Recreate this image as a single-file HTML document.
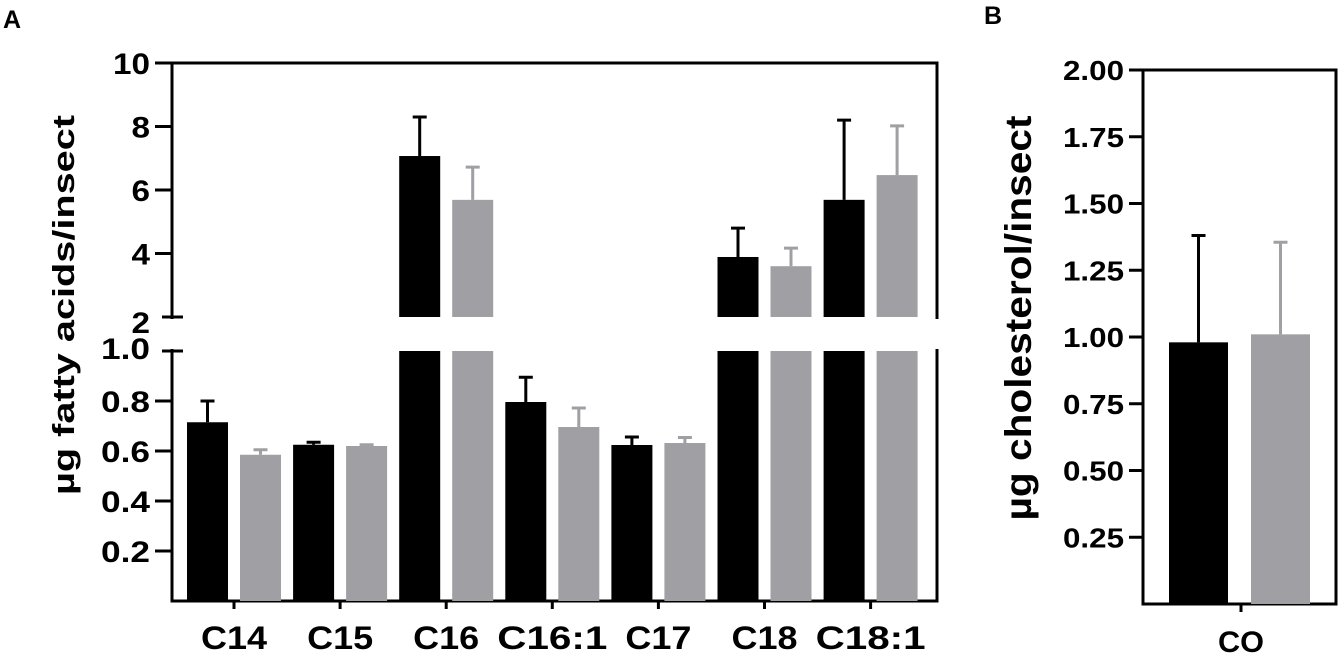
<!DOCTYPE html>
<html><head><meta charset="utf-8"><style>
body{margin:0;background:#fff}
svg{display:block;font-family:"Liberation Sans",Arial,sans-serif;font-weight:bold}
</style></head><body>
<svg id="c" width="1339" height="655" viewBox="0 0 1339 655" xmlns="http://www.w3.org/2000/svg">
<text x="3" y="28" font-size="25">A</text>
<text x="984" y="24" font-size="25">B</text>
<text transform="translate(74,305) rotate(-90)" text-anchor="middle" font-size="31" textLength="380" lengthAdjust="spacingAndGlyphs">µg fatty acids/insect</text>
<text transform="translate(1031,318) rotate(-90)" text-anchor="middle" font-size="37" textLength="405" lengthAdjust="spacingAndGlyphs">µg cholesterol/insect</text>
<g id="a"></g><g id="b"></g>
</svg>
<script>
const categories=["C14","C15","C16","C16:1","C17","C18","C18:1"];
const blackValues=[0.715,0.625,7.07,0.796,0.624,3.89,5.69];
const blackErr=[0.80,0.635,8.3,0.895,0.656,4.8,8.2];
const grayValues=[0.585,0.62,5.69,0.696,0.632,3.6,6.47];
const grayErr=[0.605,0.625,6.72,0.772,0.654,4.17,8.02];
const upperTicks=[2,4,6,8,10];
const lowerTicks=[0.2,0.4,0.6,0.8,1.0];
const bCategories=["CO"];
const bBlack=[0.98],bBlackErr=[1.38],bGray=[1.01],bGrayErr=[1.355];
const bTicks=[0.25,0.5,0.75,1.0,1.25,1.5,1.75,2.0];
const NS="http://www.w3.org/2000/svg";
const GRAY="#a0a0a4";
function mk(p,t,a){const e=document.createElementNS(NS,t);for(const k in a)e.setAttribute(k,a[k]);p.appendChild(e);return e;}
const A=document.getElementById('a'),B=document.getElementById('b');
const yU=v=>317-(v-2)*31.75;
const yL=v=>601-v*250;
const xA=i=>234+i*106.1;
function yA(v){return v>1?yU(Math.max(v,2)):yL(v);}
let e;
e=mk(A,'path',{d:`M172 ${yU(10)} H937 V601 H172 Z`,fill:'none',stroke:'#000','stroke-width':3});

mk(A,'rect',{x:165,y:yU(2)+2,width:14,height:yL(1)-yU(2)-4,fill:'#fff'});
mk(A,'rect',{x:935,y:yU(2)+2,width:5,height:yL(1)-yU(2)-4,fill:'#fff'});
mk(A,'line',{x1:162,x2:183,y1:yU(2),y2:yU(2),stroke:'#000','stroke-width':3});
mk(A,'line',{x1:162,x2:183,y1:yL(1),y2:yL(1),stroke:'#000','stroke-width':3});
function tl(p,x,y,txt,fs,name,len){
 e=mk(p,'text',{x:x,y:y,'text-anchor':'end','font-size':fs});
 if(len){e.setAttribute('textLength',len);e.setAttribute('lengthAdjust','spacingAndGlyphs');}
 e.textContent=txt;
 
}
upperTicks.forEach(t=>{
 if(t!==2){e=mk(A,'line',{x1:155,x2:172,y1:yU(t),y2:yU(t),stroke:'#000','stroke-width':3});}
 const s=String(t);
 tl(A,150,yU(t)+(t===2?16:11),s,30,'y-tick-label-a',s.length*18.5);
});
lowerTicks.forEach(t=>{
 if(t!==1){e=mk(A,'line',{x1:155,x2:172,y1:yL(t),y2:yL(t),stroke:'#000','stroke-width':3});}
 tl(A,150,yL(t)+(t===1?8:11),t.toFixed(1),30,'y-tick-label-a',49);
});
function bar(p,x,w,v,err,col,yf,big,name){
 const top=yf(v);
 if(big){
  e=mk(p,'rect',{x:x,y:top,width:w,height:yU(2)-top,fill:col});
  
  e=mk(p,'rect',{x:x,y:yL(1),width:w,height:601-yL(1),fill:col});
  
 }else{
  e=mk(p,'rect',{x:x,y:top,width:w,height:(p===B?604:601)-top,fill:col});
  
 }
 const cx=x+w/2,et=yf(err);
 e=mk(p,'path',{d:`M${cx} ${top} V${et} M${cx-7} ${et} H${cx+7}`,stroke:col,'stroke-width':3,fill:'none'});
 
}
categories.forEach((c,i)=>{
 const cx=xA(i);
 bar(A,cx-47,41,blackValues[i],blackErr[i],'#000',yA,blackValues[i]>1,'bar-black-'+c);
 bar(A,cx+6,41,grayValues[i],grayErr[i],GRAY,yA,grayValues[i]>1,'bar-gray-'+c);
 e=mk(A,'line',{x1:cx,x2:cx,y1:601,y2:609,stroke:'#000','stroke-width':3});
 
 e=mk(A,'text',{x:cx,y:649,'text-anchor':'middle','font-size':32,textLength:c.length*22,lengthAdjust:'spacingAndGlyphs'});e.textContent=c;
 
});
const yB=v=>604-v*267;
e=mk(B,'path',{d:`M1143 ${yB(2)} H1336 V604 H1143 Z`,fill:'none',stroke:'#000','stroke-width':3});

bTicks.forEach(t=>{
 e=mk(B,'line',{x1:1129,x2:1143,y1:yB(t),y2:yB(t),stroke:'#000','stroke-width':3});
 
 tl(B,1124,yB(t)+10,t.toFixed(2),28,'y-tick-label-b',61);
});
bCategories.forEach((c,i)=>{
 const cx=1241;
 bar(B,cx-72,59,bBlack[i],bBlackErr[i],'#000',yB,false,'bar-black-'+c);
 bar(B,cx+10,59,bGray[i],bGrayErr[i],GRAY,yB,false,'bar-gray-'+c);
 e=mk(B,'line',{x1:cx,x2:cx,y1:604,y2:612,stroke:'#000','stroke-width':3});
 
 e=mk(B,'text',{x:cx,y:652,'text-anchor':'middle','font-size':30,textLength:46,lengthAdjust:'spacingAndGlyphs'});e.textContent=c;
 
});
</script>
</body></html>
